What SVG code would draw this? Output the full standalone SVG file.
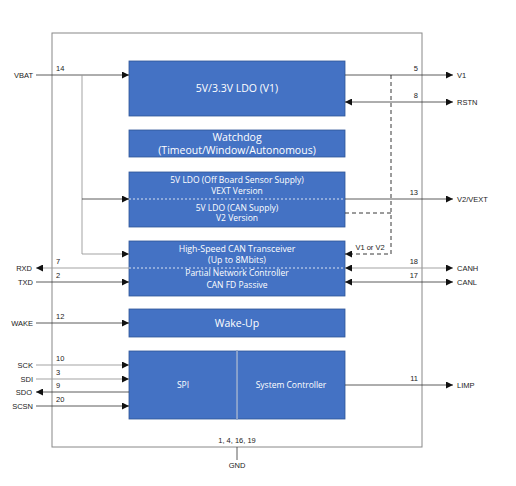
<svg xmlns="http://www.w3.org/2000/svg" width="516" height="486" viewBox="0 0 516 486">
<defs>
<marker id="ah" viewBox="0 0 10 10" refX="10" refY="5" markerWidth="7" markerHeight="7" markerUnits="userSpaceOnUse" orient="auto-start-reverse">
<path d="M0,0 L10,5 L0,10 z" fill="#111"/>
</marker>
<style>
.blk{fill:#4472C4;stroke:#2F5597;stroke-width:0.8}
.bt{font-family:"Open Sans","Noto Sans",sans-serif;fill:#fff;text-anchor:middle}
.lb{font-family:"Liberation Sans",Arial,sans-serif;font-size:7.5px;fill:#222}
.pn{font-family:"Liberation Sans",Arial,sans-serif;font-size:7.5px;fill:#222}
.ln{stroke:#333;stroke-width:0.8;fill:none}
.lg{stroke:#999;stroke-width:0.9;fill:none}
.ds{stroke:#222;stroke-width:0.9;fill:none;stroke-dasharray:4 3}
.wd{stroke:#fff;stroke-width:0.8;fill:none;stroke-dasharray:2 2}
</style>
</defs>
<rect width="516" height="486" fill="#fff"/>
<rect id="chip" x="52" y="33" width="370" height="414" fill="none" stroke="#888" stroke-width="1"/>

<g id="ldo1"><rect class="blk" x="129" y="61" width="216" height="55"/><text class="bt" x="237" y="92" font-size="10.5">5V/3.3V LDO (V1)</text></g>
<g id="watchdog"><rect class="blk" x="129" y="130" width="216" height="27"/><text class="bt" x="237" y="141" font-size="10.5">Watchdog</text><text class="bt" x="237" y="154" font-size="10.5">(Timeout/Window/Autonomous)</text></g>
<g id="ldo2"><rect class="blk" x="129" y="172" width="216" height="55"/>
<text class="bt" x="237" y="183" font-size="8.5">5V LDO (Off Board Sensor Supply)</text>
<text class="bt" x="237" y="194" font-size="8.5">VEXT Version</text>
<text class="bt" x="237" y="211" font-size="8.5">5V LDO (CAN Supply)</text>
<text class="bt" x="237" y="221" font-size="8.5">V2 Version</text></g>
<g id="can"><rect class="blk" x="129" y="241" width="216" height="55"/>
<text class="bt" x="237" y="252" font-size="8.8">High-Speed CAN Transceiver</text>
<text class="bt" x="237" y="263" font-size="8.8">(Up to 8Mbits)</text>
<text class="bt" x="237" y="276" font-size="8.5">Partial Network Controller</text>
<text class="bt" x="237" y="288" font-size="8.5">CAN FD Passive</text></g>
<g id="wakeup"><rect class="blk" x="129" y="309" width="216" height="28"/><text class="bt" x="237" y="327" font-size="10.5">Wake-Up</text></g>
<g id="spi"><rect class="blk" x="129" y="351" width="108" height="68"/><text class="bt" x="183" y="388" font-size="8.5">SPI</text></g>
<g id="sysctrl"><rect class="blk" x="237" y="351" width="108" height="68"/><text class="bt" x="291" y="388" font-size="8.5">System Controller</text></g>
<line x1="237" y1="351" x2="237" y2="419" stroke="#fff" stroke-width="0.8"/>

<g id="connectors">
<line class="wd" x1="129" y1="199" x2="345" y2="199"/>
<line class="wd" x1="129" y1="268" x2="345" y2="268"/>
<line class="ln" x1="36" y1="75" x2="129" y2="75" marker-end="url(#ah)"/>
<polyline class="lg" points="82,75 82,254 129,254" marker-end="url(#ah)"/>
<line class="ln" x1="82" y1="199" x2="129" y2="199" marker-end="url(#ah)"/>
<line class="ln" x1="345" y1="75" x2="453" y2="75" marker-end="url(#ah)"/>
<line class="ln" x1="345" y1="102" x2="453" y2="102" marker-start="url(#ah)" marker-end="url(#ah)"/>
<line class="ln" x1="345" y1="199" x2="453" y2="199" marker-end="url(#ah)"/>
<polyline class="ds" points="391,75 391,254 345,254" marker-end="url(#ah)"/>
<line class="ds" x1="345" y1="213" x2="391" y2="213"/>
<line class="lg" x1="345" y1="268" x2="453" y2="268" marker-start="url(#ah)" marker-end="url(#ah)"/>
<line class="ln" x1="345" y1="282" x2="453" y2="282" marker-start="url(#ah)" marker-end="url(#ah)"/>
<line class="lg" x1="129" y1="268" x2="36" y2="268" marker-end="url(#ah)"/>
<line class="ln" x1="36" y1="282" x2="129" y2="282" marker-end="url(#ah)"/>
<line class="ln" x1="36" y1="323" x2="129" y2="323" marker-end="url(#ah)"/>
<line class="lg" x1="36" y1="365" x2="129" y2="365" marker-end="url(#ah)"/>
<line class="lg" x1="36" y1="379" x2="129" y2="379" marker-end="url(#ah)"/>
<line class="ln" x1="129" y1="392" x2="36" y2="392" marker-end="url(#ah)"/>
<line class="ln" x1="36" y1="406" x2="129" y2="406" marker-end="url(#ah)"/>
<line class="ln" x1="345" y1="385" x2="453" y2="385" marker-end="url(#ah)"/>
<line class="ln" x1="237" y1="447" x2="237" y2="460"/>
</g>

<g id="labels">
<text class="lb" x="33" y="78" text-anchor="end">VBAT</text>
<text class="lb" x="32" y="271" text-anchor="end">RXD</text>
<text class="lb" x="33" y="285" text-anchor="end">TXD</text>
<text class="lb" x="33" y="326" text-anchor="end">WAKE</text>
<text class="lb" x="33" y="368" text-anchor="end">SCK</text>
<text class="lb" x="33" y="382" text-anchor="end">SDI</text>
<text class="lb" x="32" y="395" text-anchor="end">SDO</text>
<text class="lb" x="33" y="409" text-anchor="end">SCSN</text>
<text class="lb" x="457" y="78">V1</text>
<text class="lb" x="457" y="105">RSTN</text>
<text class="lb" x="457" y="202">V2/VEXT</text>
<text class="lb" x="457" y="271">CANH</text>
<text class="lb" x="457" y="285">CANL</text>
<text class="lb" x="457" y="388">LIMP</text>
<text class="lb" x="237" y="468" text-anchor="middle">GND</text>
<text class="lb" x="237" y="443" text-anchor="middle">1, 4, 16, 19</text>
<text class="lb" x="370" y="250" text-anchor="middle">V1 or V2</text>
<text class="pn" x="56" y="71">14</text>
<text class="pn" x="56" y="264">7</text>
<text class="pn" x="56" y="278">2</text>
<text class="pn" x="56" y="319">12</text>
<text class="pn" x="56" y="361">10</text>
<text class="pn" x="56" y="375">3</text>
<text class="pn" x="56" y="388">9</text>
<text class="pn" x="56" y="402">20</text>
<text class="pn" x="418" y="71" text-anchor="end">5</text>
<text class="pn" x="418" y="98" text-anchor="end">8</text>
<text class="pn" x="418" y="195" text-anchor="end">13</text>
<text class="pn" x="418" y="264" text-anchor="end">18</text>
<text class="pn" x="418" y="278" text-anchor="end">17</text>
<text class="pn" x="418" y="381" text-anchor="end">11</text>
</g>
</svg>
